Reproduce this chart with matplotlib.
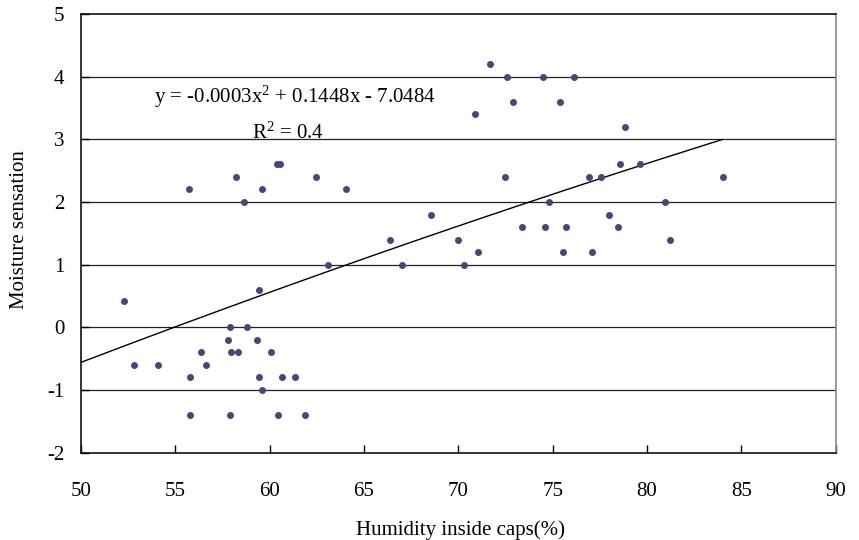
import numpy as np
import matplotlib
matplotlib.use("Agg")
import matplotlib.pyplot as plt

humidity = [55.7, 58.2, 58.65, 59.6, 60.4, 60.55, 62.45, 64.05, 68.55, 66.4, 70.0,
            71.7, 72.6, 74.5, 76.15, 72.9, 75.4, 70.9, 78.85, 78.55, 79.65, 72.45,
            76.95, 77.55, 84.05, 74.8, 80.95, 78.0, 73.4, 74.6, 75.7, 78.45, 81.2,
            63.1, 67.0, 52.3, 59.45, 57.9, 58.8, 57.8, 59.35, 56.35, 57.95, 58.3,
            60.05, 52.8, 54.1, 56.65, 55.8, 59.45, 60.65, 61.35, 59.6, 55.8, 57.9,
            60.45, 61.85, 71.05, 75.55, 77.1, 70.3]
moisture = [2.2, 2.4, 2.0, 2.2, 2.6, 2.6, 2.4, 2.2, 1.8, 1.4, 1.4,
            4.2, 4.0, 4.0, 4.0, 3.6, 3.6, 3.4, 3.2, 2.6, 2.6, 2.4,
            2.4, 2.4, 2.4, 2.0, 2.0, 1.8, 1.6, 1.6, 1.6, 1.6, 1.4,
            1.0, 1.0, 0.42, 0.6, 0.0, 0.0, -0.2, -0.2, -0.4, -0.4, -0.4,
            -0.4, -0.6, -0.6, -0.6, -0.8, -0.8, -0.8, -0.8, -1.0, -1.4, -1.4,
            -1.4, -1.4, 1.2, 1.2, 1.2, 1.0]
trend_coef = [-0.0003, 0.1448, -7.0484]
trend_range = [50, 84]
x_ticks = [50, 55, 60, 65, 70, 75, 80, 85, 90]
y_ticks = [-2, -1, 0, 1, 2, 3, 4, 5]

plt.rcParams['font.family'] = ['Liberation Serif', 'DejaVu Serif']
plt.rcParams['mathtext.fontset'] = 'custom'
plt.rcParams['mathtext.rm'] = 'Liberation Serif'
plt.rcParams['mathtext.it'] = 'Liberation Serif'
plt.rcParams['mathtext.bf'] = 'Liberation Serif'

W, H = 859, 540
fig = plt.figure(figsize=(W / 100, H / 100), dpi=100)
ax = fig.add_axes([81 / W, 1 - 452.7 / H, (835.7 - 81) / W, (452.7 - 14) / H])

for yv in y_ticks[1:-1]:
    ax.axhline(yv, color='#222222', lw=0.9, zorder=1)

xt = np.linspace(trend_range[0], trend_range[1], 200)
ax.plot(xt, np.polyval(trend_coef, xt), color='black', lw=1.0, zorder=2)

ax.plot(humidity, moisture, linestyle='none', marker='o', markersize=4,
        color='#48457A', zorder=3)

ax.set_xlim(50, 90)
ax.set_ylim(-2, 5)
ax.set_xticks(x_ticks)
ax.set_yticks(y_ticks)
ax.set_xticklabels([str(v) for v in x_ticks])
ax.set_yticklabels([str(v) for v in y_ticks])
ax.tick_params(axis='x', direction='in', length=6, width=1, pad=21, labelsize=15)
ax.tick_params(axis='y', direction='in', length=6, width=1, pad=12, labelsize=15)

for s in ['left', 'bottom', 'top']:
    ax.spines[s].set_color('#111111')
    ax.spines[s].set_linewidth(1.2)
ax.spines['right'].set_color('#888888')
ax.spines['right'].set_linewidth(1.2)

ax.set_xlabel('Humidity inside caps(%)', fontsize=15)
ax.set_ylabel('Moisture sensation', fontsize=15)
ax.xaxis.set_label_coords((461 - 81) / (835.7 - 81), -(530 - 452.7) / (452.7 - 14))
ax.yaxis.set_label_coords(-(81 - 20) / (835.7 - 81), (452.7 - 230) / (452.7 - 14))
ax.xaxis.label.set_va('center')
ax.yaxis.label.set_va('center')

ax.text(295, H - 97, r'y = -0.0003x$^2$ + 0.1448x - 7.0484', transform=None,
        fontsize=15, ha='center', va='center')
ax.text(288, H - 133, r'R$^2$ = 0.4', transform=None,
        fontsize=15, ha='center', va='center')

fig.savefig('out.png', dpi=100)
